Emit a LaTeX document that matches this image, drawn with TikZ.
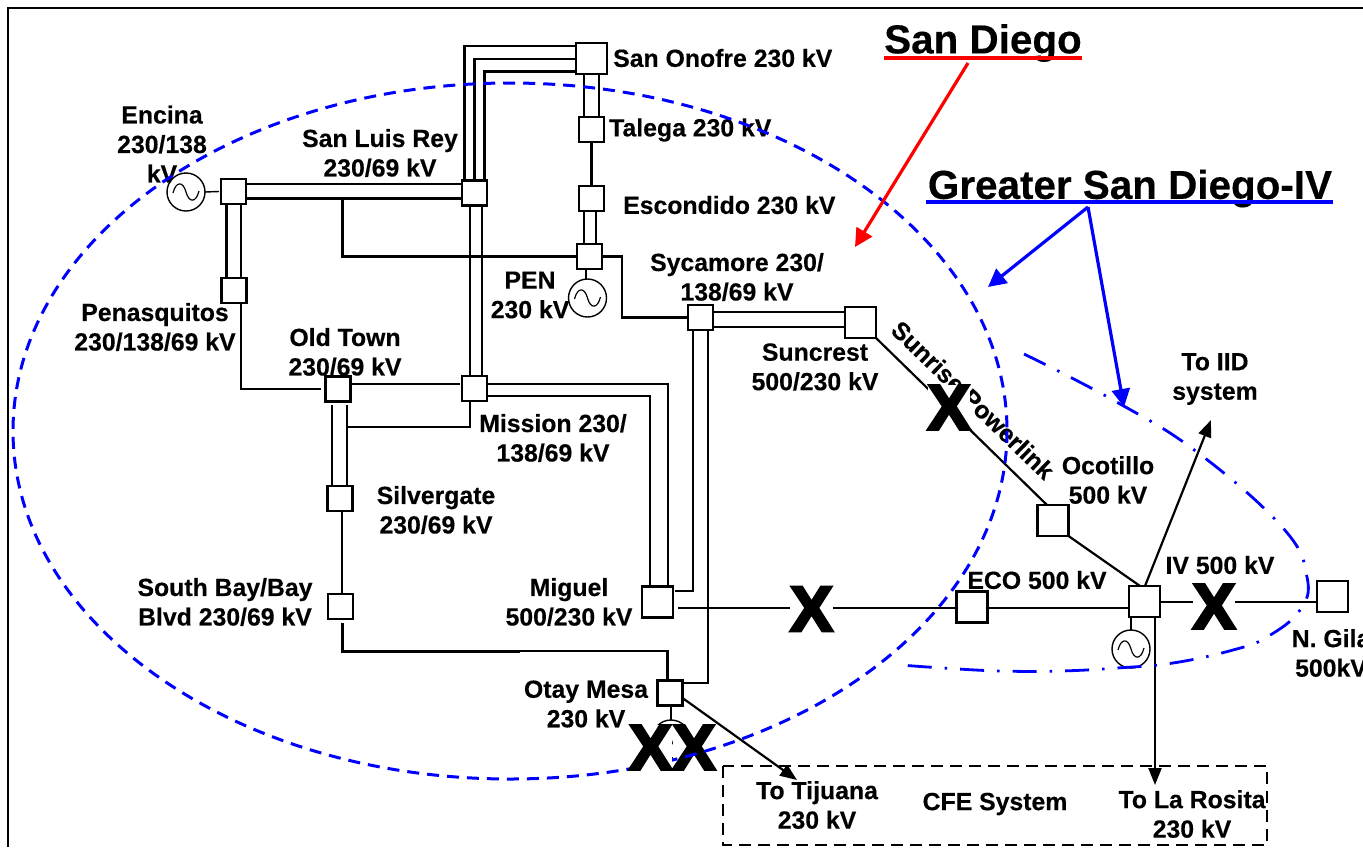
\documentclass[tikz,border=0pt]{standalone}
\usepackage{fontspec}
\setmainfont{Liberation Sans}
\newfontfamily\lblfont[BoldFont={Liberation Sans Bold},BoldFeatures={FakeBold=0.35}]{Liberation Sans}
\newfontfamily\xfont[BoldFont={Liberation Sans Bold},BoldFeatures={FakeBold=4.5}]{Liberation Sans}
\usetikzlibrary{arrows.meta,calc}
\definecolor{myblue}{RGB}{0,0,255}
\definecolor{myred}{RGB}{255,0,0}
\tikzset{
  bus/.style={draw,line width=2.2pt,fill=white,minimum size=25pt,inner sep=0pt,outer sep=0pt},
  bigbus/.style={bus,minimum size=31pt},
  wire/.style={line width=2.2pt,line cap=butt},
  thinwire/.style={line width=1.4pt},
  arrowwire/.style={line width=2.2pt,-{Triangle[length=17pt,width=13pt]}},
  gen/.style={circle,draw,line width=1.4pt,fill=white,minimum size=38pt,inner sep=0pt,outer sep=0pt,
    path picture={\draw[line width=1.2pt] ($(path picture bounding box.center)+(-13,1)$)
      .. controls ($(path picture bounding box.center)+(-10,-11)$) and ($(path picture bounding box.center)+(-3,-11)$) .. ($(path picture bounding box.center)+(0,0)$)
      .. controls ($(path picture bounding box.center)+(3,11)$) and ($(path picture bounding box.center)+(10,11)$) .. ($(path picture bounding box.center)+(13,-1)$);}},
  lbl/.style={font=\fontsize{24.8pt}{29.5pt}\lblfont\bfseries,align=center,inner sep=0pt},
  title/.style={font=\fontsize{40.4pt}{46pt}\lblfont\bfseries,inner sep=0pt},
  xmark/.style={font=\fontsize{64pt}{64pt}\xfont\bfseries,fill=white,inner sep=0pt},
  sdzone/.style={myblue,line width=3pt,dash pattern=on 12pt off 8pt},
  ivzone/.style={myblue,line width=2.8pt,dash pattern=on 24pt off 13pt on 2.5pt off 13pt},
  pointer/.style={line width=3.2pt,-{Triangle[length=18pt,width=18pt]}},
}
\begin{document}
\begin{tikzpicture}[x=1pt,y=-1pt]
\useasboundingbox (0,0) rectangle (1363,847);
\fill[white] (0,0) rectangle (1363,847);
% frame
\coordinate (fa) at (8,847); \coordinate (fb) at (8,8); \coordinate (fc) at (1363,8);
\draw[line width=2pt] (fa) -- (fb) -- (fc);
% buses
\node[bigbus] (so) at (591.5,58.5) {};
\node[bus] (tal) at (591.5,129.5) {};
\node[bus] (esc) at (591.5,198.5) {};
\node[bus] (pen) at (589.5,256.5) {};
\node[bus] (syc) at (700.5,317.5) {};
\node[bigbus] (sun) at (860.5,322.5) {};
\node[bus] (slr) at (474.5,193) {};
\node[bus] (enc) at (233.5,191.5) {};
\node[bus] (peq) at (234,290.5) {};
\node[bus] (old) at (338,389) {};
\node[bus] (mis) at (474.5,388.5) {};
\node[bus] (sil) at (340,498.5) {};
\node[bus] (sby) at (340.5,606.5) {};
\node[bigbus] (mig) at (657.5,602) {};
\node[bus] (ota) at (670,693) {};
\node[bigbus] (oco) at (1053,520.5) {};
\node[bigbus] (iv) at (1144.5,601.5) {};
\node[bigbus] (eco) at (972,607) {};
\node[bigbus] (gil) at (1332.5,596.5) {};
% generators
\node[gen] (genc) at (186,192) {};
\node[gen] (gpen) at (587.5,298) {};
\node[gen] (giv) at (1131,649) {};
\node[gen] (gota) at (671,739) {};
% free ends
\coordinate (iid) at (1211,420);
\coordinate (ros) at (1155,785);
\coordinate (tij) at (797,780);
% connectors
\begin{scope}[wire]
\draw (so.west |- 0,46) -| (464.5,0 |- slr.north);
\draw (so.west |- 0,59) -| (474.5,0 |- slr.north);
\draw (so.west |- 0,71.5) -| (484.5,0 |- slr.north);
\draw (584,0 |- so.south) -- (584,0 |- tal.north);
\draw (599,0 |- so.south) -- (599,0 |- tal.north);
\draw (tal) -- (esc);
\draw (584,0 |- esc.south) -- (584,0 |- pen.north);
\draw (596,0 |- esc.south) -- (596,0 |- pen.north);
\draw (pen.east) -- (622,0 |- pen.east) |- (syc.west);
\draw (pen.west) -- (342.5,0 |- pen.west) -- (342.5,198.5);
\draw (enc.east |- 0,184) -- (slr.west |- 0,184);
\draw (enc.east |- 0,198.5) -- (slr.west |- 0,198.5);
\draw (226.5,0 |- enc.south) -- (226.5,0 |- peq.north);
\draw (241,0 |- enc.south) -- (241,0 |- peq.north);
\draw (241,0 |- peq.south) |- ($(old.west)+(-5,0)$);
\draw (old.east |- 0,383.7) -- ($(mis.west |- 0,383.7)+(-2,0)$);
\draw (470,0 |- slr.south) -- (470,0 |- mis.north);
\draw (482,0 |- slr.south) -- (482,0 |- mis.north);
\draw (mis.east |- 0,383.7) -| (667.7,0 |- mig.north);
\draw (mis.east |- 0,396) -| (650,0 |- mig.north);
\draw (470,0 |- mis.south) |- (348,426.7);
\draw (332,0 |- old.south) ++(0,3) -- (332,0 |- sil.north);
\draw (347,0 |- old.south) ++(0,3) -- (347,0 |- sil.north);
\draw (342,0 |- sil.south) -- (342,0 |- sby.north);
\draw[line width=3pt] ($(342,0 |- sby.south)+(0,4)$) |- (520,651);
\draw (520,651) -| (667.5,0 |- ota.north);
\draw (693,0 |- syc.south) |- ($(mig.east |- 0,591)+(2,0)$);
\draw (708,0 |- syc.south) |- (ota.east |- 0,683);
\draw (syc.east |- 0,312) -- (sun.west |- 0,312);
\draw (syc.east |- 0,326.7) -- (sun.west |- 0,326.7);
\draw ($(mig.east |- 0,608)+(5,0)$) -- (eco.west |- 0,608);
\draw (sun.south east) -- (1047,0 |- oco.north);
\draw (oco.south east) -- (1140,0 |- iv.north);
\draw (eco.east |- 0,608) -- (iv.west |- 0,608);
\draw (iv.east |- 0,602) -- (gil.west |- 0,602);
\end{scope}
\begin{scope}[thinwire]
\draw (genc.east) -- ($(enc.west)+(-2,0)$);
\draw (586,0 |- pen.south) -- (586,0 |- gpen.north);
\draw (1131,0 |- iv.south) -- (giv.north);
\draw (671,0 |- ota.south) -- (gota.north);
\end{scope}
\draw[arrowwire] (1145,0 |- iv.north) -- (iid);
\draw[arrowwire] (1155,0 |- iv.south) -- (ros);
\draw[arrowwire] (ota.east |- 0,698) -- (tij);
% CFE box
\coordinate (cfea) at (723,766); \coordinate (cfeb) at (1267,845);
\draw[line width=1.5pt,dash pattern=on 12pt off 7pt] (cfea) rectangle (cfeb);
% labels
\node[lbl,anchor=west] (tso) at (613,58) {San Onofre 230 kV};
\node[lbl,anchor=west] (ttal) at (609,130) {Talega 230 kV};
\node[lbl,anchor=west] (tesc) at (623,205) {Escondido 230 kV};
\node[lbl] (tenc) at (162,144) {Encina\\230/138\\kV};
\node[lbl] (tslr) at (380,153) {San Luis Rey\\230/69 kV};
\node[lbl] (tpen) at (530,295) {PEN\\230 kV};
\node[lbl] (tsyc) at (737,277) {Sycamore 230/\\138/69 kV};
\node[lbl] (tsun) at (815,367) {Suncrest\\500/230 kV};
\node[lbl] (tpeq) at (155,327) {Penasquitos\\230/138/69 kV};
\node[lbl] (told) at (345,352) {Old Town\\230/69 kV};
\node[lbl] (tmis) at (553,438) {Mission 230/\\138/69 kV};
\node[lbl] (tsil) at (436,510) {Silvergate\\230/69 kV};
\node[lbl] (tsby) at (225,602) {South Bay/Bay\\Blvd 230/69 kV};
\node[lbl] (tmig) at (569,602) {Miguel\\500/230 kV};
\node[lbl] (tota) at (586,704) {Otay Mesa\\230 kV};
\node[lbl] (ttij) at (817,805) {To Tijuana\\230 kV};
\node[lbl] (tcfe) at (995,804) {CFE System};
\node[lbl] (tros) at (1192,814) {To La Rosita\\230 kV};
\node[lbl] (toco) at (1108,480) {Ocotillo\\500 kV};
\node[lbl] (tiid) at (1215,379) {To IID\\system};
\node[lbl] (tiv) at (1220,565) {IV 500 kV};
\node[lbl] (teco) at (1037,580) {ECO 500 kV};
\node[lbl] (tgil) at (1331,653) {N. Gila\\500kV};
\node[lbl,rotate=-44] (tsp) at (973,400) {Sunrise Powerlink};
% X marks that hide what lies under them
\node[xmark] (x1) at (949,407.5) {X};
\node[xmark] (x2) at (811.5,609) {X};
\node[xmark] (x3) at (1214,606.5) {X};
\node[xmark] (x5) at (694,747.5) {X};
% zones
\draw[sdzone] (510,431) ellipse [x radius=497,y radius=348];
\draw[ivzone] plot[smooth,tension=.7] coordinates {(1024,354) (1113,400) (1197,452) (1283,528) (1307,577) (1300,610) (1267,637) (1233,650) (1173,663) (1117,668) (1060,671) (1000,671) (943,668) (900,665)};
\node[xmark] (x4) at (650.5,747.5) {X};
% titles
\node[title] (tsd) at (983,43) {San Diego};
\node[title] (tgsd) at (1130,188.5) {Greater San Diego-IV};
\coordinate (sdl) at (884,58); \coordinate (sdr) at (1082,58);
\coordinate (gsl) at (926,202); \coordinate (gsr) at (1333,202);
\coordinate (sds) at (968,63); \coordinate (sdt) at (855,247);
\coordinate (gss) at (1088,207); \coordinate (gsa) at (988,287); \coordinate (gsb) at (1124,407);
\draw[myred,line width=4.5pt] (sdl) -- (sdr);
\draw[myblue,line width=4.5pt] (gsl) -- (gsr);
\draw[pointer,myred] (sds) -- (sdt);
\draw[pointer,myblue] (gss) -- (gsa);
\draw[pointer,myblue] (gss) -- (gsb);
\end{tikzpicture}
\end{document}
